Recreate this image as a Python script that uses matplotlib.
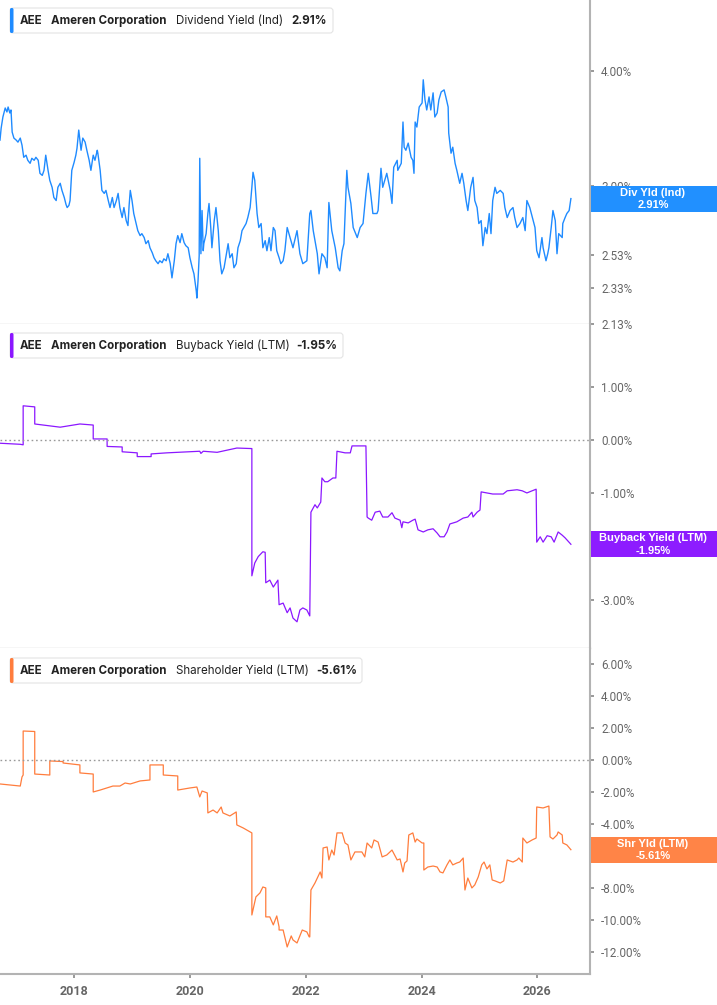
import matplotlib
matplotlib.use('Agg')
from matplotlib import pyplot as plt
from matplotlib.patches import FancyBboxPatch, Rectangle
from matplotlib.transforms import Affine2D
from matplotlib.ticker import FixedLocator, NullLocator, FuncFormatter

# Dividend Yield (Ind), %, log axis
div_year = [2016.72, 2016.74, 2016.77, 2016.81, 2016.84, 2016.86, 2016.89, 2016.91, 2016.93, 2016.96,
            2017.00, 2017.03, 2017.07, 2017.10, 2017.13, 2017.17, 2017.20, 2017.24, 2017.27, 2017.31,
            2017.34, 2017.38, 2017.41, 2017.45, 2017.48, 2017.51, 2017.55, 2017.58, 2017.62, 2017.65,
            2017.69, 2017.72, 2017.76, 2017.79, 2017.83, 2017.86, 2017.88, 2017.91, 2017.93, 2017.96,
            2018.00, 2018.03, 2018.05, 2018.08, 2018.12, 2018.15, 2018.19, 2018.22, 2018.26, 2018.29,
            2018.33, 2018.36, 2018.40, 2018.41, 2018.45, 2018.48, 2018.52, 2018.55, 2018.59, 2018.62,
            2018.66, 2018.69, 2018.73, 2018.76, 2018.79, 2018.83, 2018.86, 2018.90, 2018.93, 2018.95,
            2018.97, 2019.00, 2019.03, 2019.07, 2019.10, 2019.14, 2019.17, 2019.21, 2019.24, 2019.28,
            2019.31, 2019.35, 2019.38, 2019.41, 2019.45, 2019.48, 2019.52, 2019.55, 2019.59, 2019.62,
            2019.66, 2019.69, 2019.73, 2019.76, 2019.79, 2019.83, 2019.86, 2019.90, 2019.93, 2019.97,
            2020.00, 2020.04, 2020.07, 2020.11, 2020.12, 2020.14, 2020.16, 2020.17, 2020.19, 2020.21,
            2020.23, 2020.24, 2020.28, 2020.31, 2020.33, 2020.36, 2020.38, 2020.42, 2020.45, 2020.49,
            2020.52, 2020.55, 2020.59, 2020.62, 2020.66, 2020.69, 2020.73, 2020.76, 2020.80, 2020.83,
            2020.87, 2020.90, 2020.93, 2020.97, 2021.00, 2021.04, 2021.07, 2021.09, 2021.12, 2021.16,
            2021.19, 2021.23, 2021.26, 2021.30, 2021.33, 2021.37, 2021.40, 2021.44, 2021.47, 2021.50,
            2021.54, 2021.57, 2021.61, 2021.64, 2021.68, 2021.73, 2021.78, 2021.85, 2021.90, 2021.95,
            2022.02, 2022.07, 2022.09, 2022.13, 2022.20, 2022.23, 2022.28, 2022.33, 2022.37, 2022.40,
            2022.45, 2022.51, 2022.56, 2022.59, 2022.63, 2022.66, 2022.71, 2022.73, 2022.78, 2022.82,
            2022.89, 2022.94, 2022.99, 2023.04, 2023.08, 2023.13, 2023.16, 2023.23, 2023.25, 2023.30,
            2023.33, 2023.40, 2023.46, 2023.49, 2023.52, 2023.58, 2023.59, 2023.65, 2023.68, 2023.70,
            2023.73, 2023.77, 2023.82, 2023.85, 2023.87, 2023.89, 2023.92, 2023.96, 2024.01, 2024.03,
            2024.06, 2024.09, 2024.13, 2024.16, 2024.20, 2024.23, 2024.27, 2024.30, 2024.34, 2024.39,
            2024.42, 2024.46, 2024.47, 2024.51, 2024.54, 2024.58, 2024.61, 2024.66, 2024.70, 2024.73,
            2024.77, 2024.80, 2024.85, 2024.89, 2024.92, 2024.96, 2024.99, 2025.03, 2025.06, 2025.10,
            2025.13, 2025.17, 2025.20, 2025.23, 2025.27, 2025.30, 2025.36, 2025.41, 2025.44, 2025.48,
            2025.53, 2025.58, 2025.61, 2025.65, 2025.70, 2025.75, 2025.79, 2025.82, 2025.87, 2025.93,
            2025.96, 2025.99, 2026.03, 2026.08, 2026.10, 2026.15, 2026.18, 2026.20, 2026.24, 2026.27,
            2026.31, 2026.34, 2026.37, 2026.43, 2026.44, 2026.48, 2026.51, 2026.55, 2026.58]
div_yield = [3.366, 3.468, 3.565, 3.646, 3.610, 3.655, 3.601, 3.628, 3.434, 3.383,
             3.366, 3.349, 3.383, 3.324, 3.225, 3.242, 3.201, 3.177, 3.217, 3.201,
             3.225, 3.201, 3.099, 3.083, 3.122, 3.242, 3.122, 3.045, 2.993, 2.918,
             2.896, 2.993, 3.023, 2.970, 2.918, 2.868, 2.846, 2.861, 2.896, 3.122,
             3.185, 3.242, 3.299, 3.451, 3.282, 3.383, 3.349, 3.282, 3.201, 3.122,
             3.242, 3.201, 3.282, 3.258, 3.122, 2.970, 2.948, 2.970, 2.896, 2.846,
             2.918, 2.846, 2.896, 2.948, 2.846, 2.776, 2.846, 2.755, 2.721, 2.861,
             2.970, 2.896, 2.804, 2.735, 2.687, 2.654, 2.667, 2.641, 2.601, 2.621,
             2.575, 2.543, 2.512, 2.493, 2.475, 2.493, 2.481, 2.505, 2.493, 2.537,
             2.475, 2.389, 2.493, 2.601, 2.654, 2.608, 2.667, 2.608, 2.588, 2.575,
             2.512, 2.450, 2.413, 2.312, 2.272, 2.371, 2.524, 3.217, 2.537, 2.825,
             2.556, 2.601, 2.667, 2.804, 2.875, 2.708, 2.575, 2.755, 2.846, 2.687,
             2.493, 2.413, 2.450, 2.512, 2.601, 2.512, 2.537, 2.450, 2.475, 2.575,
             2.621, 2.687, 2.708, 2.735, 2.776, 2.846, 2.993, 3.107, 3.045, 2.804,
             2.708, 2.735, 2.575, 2.621, 2.556, 2.641, 2.556, 2.708, 2.687, 2.556,
             2.512, 2.475, 2.493, 2.556, 2.708, 2.641, 2.575, 2.687, 2.537, 2.475,
             2.493, 2.804, 2.825, 2.687, 2.537, 2.413, 2.537, 2.512, 2.450, 2.882,
             2.687, 2.575, 2.450, 2.431, 2.556, 2.601, 3.122, 2.993, 2.875, 2.708,
             2.641, 2.708, 2.735, 2.948, 3.099, 2.918, 2.804, 2.804, 2.825, 3.138,
             2.993, 3.099, 2.970, 2.875, 3.146, 3.201, 3.122, 3.177, 3.521, 3.307,
             3.282, 3.341, 3.225, 3.201, 3.099, 3.521, 3.477, 3.655, 3.692, 3.911,
             3.720, 3.628, 3.748, 3.628, 3.786, 3.565, 3.601, 3.720, 3.795, 3.814,
             3.748, 3.655, 3.425, 3.258, 3.307, 3.177, 3.122, 3.023, 3.099, 3.023,
             2.896, 2.825, 2.993, 3.068, 2.896, 2.846, 2.735, 2.755, 2.588, 2.708,
             2.667, 2.804, 2.667, 2.896, 2.993, 2.948, 2.970, 2.948, 2.846, 2.776,
             2.825, 2.846, 2.776, 2.708, 2.735, 2.776, 2.687, 2.896, 2.846, 2.755,
             2.708, 2.556, 2.512, 2.641, 2.575, 2.493, 2.537, 2.575, 2.708, 2.825,
             2.755, 2.537, 2.667, 2.641, 2.735, 2.776, 2.804, 2.825, 2.91]

# Buyback Yield (LTM), %
bb_year = [2016.72, 2017.07, 2017.12, 2017.12, 2017.32, 2017.32, 2017.76, 2018.10, 2018.33, 2018.33,
           2018.57, 2018.57, 2018.83, 2018.83, 2019.09, 2019.09, 2019.33, 2019.33, 2019.60, 2020.17,
           2020.19, 2020.23, 2020.47, 2020.81, 2021.07, 2021.07, 2021.12, 2021.18, 2021.26, 2021.30,
           2021.31, 2021.38, 2021.44, 2021.52, 2021.54, 2021.61, 2021.68, 2021.73, 2021.78, 2021.85,
           2021.90, 2021.95, 2022.02, 2022.07, 2022.09, 2022.16, 2022.20, 2022.26, 2022.28, 2022.33,
           2022.38, 2022.47, 2022.52, 2022.54, 2022.68, 2022.77, 2022.80, 2023.04, 2023.06, 2023.08,
           2023.14, 2023.20, 2023.28, 2023.33, 2023.42, 2023.49, 2023.54, 2023.63, 2023.66, 2023.68,
           2023.77, 2023.85, 2023.89, 2023.94, 2024.03, 2024.11, 2024.20, 2024.27, 2024.32, 2024.39,
           2024.44, 2024.49, 2024.61, 2024.72, 2024.80, 2024.87, 2024.89, 2024.96, 2025.01, 2025.03,
           2025.13, 2025.23, 2025.41, 2025.48, 2025.65, 2025.74, 2025.82, 2025.91, 2025.98, 2025.99,
           2026.05, 2026.10, 2026.17, 2026.24, 2026.29, 2026.36, 2026.43, 2026.48, 2026.53, 2026.58]
bb_yield = [-0.06, -0.08, -0.09, 0.64, 0.62, 0.30, 0.24, 0.30, 0.28, 0.02,
            0.02, -0.12, -0.13, -0.22, -0.24, -0.31, -0.31, -0.26, -0.24, -0.21,
            -0.25, -0.21, -0.23, -0.15, -0.16, -2.54, -2.30, -2.18, -2.09, -2.10,
            -2.67, -2.62, -2.75, -2.62, -3.08, -3.05, -3.23, -3.14, -3.33, -3.40,
            -3.18, -3.14, -3.18, -3.29, -1.35, -1.21, -1.27, -1.16, -0.71, -0.78,
            -0.78, -0.71, -0.71, -0.21, -0.24, -0.24, -0.11, -0.11, -1.44, -1.46,
            -1.50, -1.35, -1.33, -1.44, -1.44, -1.36, -1.46, -1.50, -1.64, -1.53,
            -1.55, -1.50, -1.48, -1.68, -1.72, -1.68, -1.66, -1.74, -1.81, -1.81,
            -1.72, -1.57, -1.53, -1.46, -1.44, -1.35, -1.44, -1.35, -1.31, -0.97,
            -0.99, -1.01, -1.01, -0.95, -0.93, -0.95, -0.99, -0.95, -0.92, -1.91,
            -1.81, -1.91, -1.79, -1.81, -1.91, -1.72, -1.78, -1.83, -1.89, -1.95]

# Shareholder Yield (LTM), %
sh_year = [2016.72, 2017.07, 2017.10, 2017.12, 2017.12, 2017.32, 2017.32, 2017.58, 2017.58, 2017.81,
           2017.81, 2018.10, 2018.10, 2018.33, 2018.33, 2018.45, 2018.67, 2018.79, 2018.88, 2018.97,
           2019.14, 2019.31, 2019.31, 2019.54, 2019.54, 2019.79, 2019.79, 2020.00, 2020.12, 2020.17,
           2020.21, 2020.30, 2020.31, 2020.40, 2020.47, 2020.54, 2020.57, 2020.69, 2020.80, 2020.81,
           2020.92, 2021.07, 2021.07, 2021.14, 2021.21, 2021.26, 2021.31, 2021.31, 2021.38, 2021.44,
           2021.50, 2021.54, 2021.54, 2021.61, 2021.68, 2021.75, 2021.78, 2021.85, 2021.94, 2022.02,
           2022.06, 2022.07, 2022.09, 2022.16, 2022.25, 2022.28, 2022.30, 2022.37, 2022.40, 2022.45,
           2022.49, 2022.54, 2022.63, 2022.68, 2022.73, 2022.78, 2022.85, 2022.97, 2023.02, 2023.06,
           2023.14, 2023.18, 2023.25, 2023.32, 2023.40, 2023.49, 2023.58, 2023.63, 2023.68, 2023.71,
           2023.75, 2023.78, 2023.85, 2023.89, 2023.92, 2024.01, 2024.04, 2024.04, 2024.11, 2024.20,
           2024.27, 2024.32, 2024.37, 2024.44, 2024.49, 2024.54, 2024.61, 2024.66, 2024.72, 2024.75,
           2024.80, 2024.87, 2024.92, 2024.98, 2025.04, 2025.08, 2025.13, 2025.18, 2025.22, 2025.27,
           2025.36, 2025.42, 2025.48, 2025.58, 2025.65, 2025.68, 2025.74, 2025.75, 2025.82, 2025.91,
           2025.98, 2025.99, 2026.10, 2026.20, 2026.22, 2026.27, 2026.34, 2026.36, 2026.43, 2026.44,
           2026.51, 2026.58]
sh_yield = [-1.50, -1.63, -1.06, -0.94, 1.81, 1.78, -0.88, -0.94, -0.06, -0.10,
            -0.19, -0.31, -0.81, -0.88, -2.00, -1.88, -1.63, -1.63, -1.44, -1.50,
            -1.31, -1.25, -0.31, -0.31, -0.94, -1.00, -1.88, -1.75, -1.69, -2.31,
            -1.94, -2.06, -3.31, -3.13, -3.31, -2.94, -3.31, -3.50, -3.25, -4.06,
            -4.25, -4.56, -9.69, -8.56, -8.31, -7.94, -8.00, -9.81, -9.81, -10.31,
            -9.75, -10.44, -10.63, -10.63, -11.69, -11.00, -11.25, -11.44, -10.63, -10.75,
            -11.06, -11.06, -8.13, -7.69, -7.00, -7.38, -5.50, -5.44, -6.25, -5.63,
            -5.94, -4.56, -4.56, -5.19, -5.31, -6.25, -5.75, -5.75, -6.06, -5.19,
            -5.50, -5.00, -5.13, -6.06, -5.94, -5.63, -6.25, -6.19, -7.00, -6.44,
            -6.31, -4.69, -4.56, -5.13, -4.94, -5.19, -5.19, -6.88, -6.69, -6.63,
            -6.69, -7.00, -7.06, -6.56, -6.25, -6.56, -6.44, -6.38, -6.13, -8.13,
            -7.38, -8.00, -7.81, -7.31, -6.56, -6.38, -6.81, -6.56, -7.50, -7.56,
            -7.69, -7.56, -6.25, -6.38, -6.25, -6.13, -6.38, -4.88, -5.19, -5.00,
            -4.88, -2.94, -3.00, -2.88, -4.81, -4.94, -4.69, -4.50, -4.69, -5.19,
            -5.31, -5.61]

year_ticks = [2018, 2020, 2022, 2024, 2026]
div_ticks = [2.13, 2.33, 2.53, 3.00, 4.00]
bb_ticks = [1, 0, -1, -2, -3]
sh_ticks = [6, 4, 2, 0, -2, -4, -6, -8, -10, -12]

BLUE = '#1f8bff'
PURPLE = '#8b17ff'
ORANGE = '#ff7d3d'
SPINE = '#b3b3b3'

W, H = 717, 1005
fig = plt.figure(figsize=(W / 100, H / 100), dpi=100)
px = Affine2D().scale(1 / 100) + fig.dpi_scale_trans  # pixels from bottom-left


def make_axes(top, bottom):
    ax = fig.add_axes([0, 1 - bottom / H, 590 / W, (bottom - top) / H])
    ax.set_xlim(2016.72, 2026.91)
    for s in ('top', 'left'):
        ax.spines[s].set_visible(False)
    ax.spines['right'].set_color(SPINE)
    ax.spines['right'].set_linewidth(1.5)
    ax.spines['bottom'].set_color('#bdbdbd')
    ax.spines['bottom'].set_linewidth(0.9)
    ax.yaxis.tick_right()
    ax.tick_params(axis='y', direction='out', length=3, width=1.2, color='#888888',
                   labelsize=8.4, labelcolor='#666666', pad=5)
    for lab in ax.get_yticklabels():
        lab.set_family('Roboto')
    ax.set_xticks(year_ticks)
    ax.tick_params(axis='x', bottom=False, labelbottom=False)
    return ax


def pct(v, _):
    return '{:.2f}%'.format(v)


def legend_box(top, pieces, right, color):
    bottom = H - top - 25
    fig.add_artist(FancyBboxPatch((10, bottom), right - 10, 25, boxstyle='round,pad=0,rounding_size=3',
                                  transform=px, facecolor='white', edgecolor='#e4e4e4', linewidth=0.8,
                                  zorder=5))
    fig.add_artist(FancyBboxPatch((10, bottom), 3.5, 25, boxstyle='round,pad=0,rounding_size=1.5',
                                  transform=px, facecolor=color, edgecolor='none', zorder=6))
    for text, x, weight in pieces:
        fig.text(x, bottom + 12.5, text, transform=px, ha='left', va='center', fontsize=8.3,
                 fontweight=weight, family='Inter', color='#222222', zorder=7)


def value_box(ax, value, line1, line2, color):
    yd = ax.transData.transform((2020, value))[1]
    fig.add_artist(Rectangle((591, yd - 13), W - 591, 26, transform=px, facecolor=color,
                             edgecolor='none', zorder=5))
    fig.text(653, yd + 6, line1, transform=px, ha='center', va='center', fontsize=8,
             fontweight='bold', family='Liberation Sans', color='white', zorder=6)
    fig.text(653, yd - 6.5, line2, transform=px, ha='center', va='center', fontsize=8,
             fontweight='bold', family='Liberation Sans', color='white', zorder=6)


# panel 1: dividend yield
ax1 = make_axes(0, 324)
ax1.plot(div_year, div_yield, color=BLUE, linewidth=1.0)
ax1.set_yscale('log')
ax1.set_ylim(2.13, 4.77)
ax1.yaxis.set_major_locator(FixedLocator(div_ticks))
ax1.yaxis.set_minor_locator(NullLocator())
ax1.yaxis.set_major_formatter(FuncFormatter(pct))
for lab in ax1.get_yticklabels():
    lab.set_family('Roboto')

# panel 2: buyback yield
ax2 = make_axes(324, 648)
ax2.plot(bb_year, bb_yield, color=PURPLE, linewidth=0.9)
ax2.axhline(0, color='#999999', linestyle=(0, (1.2, 2)), linewidth=1.0)
ax2.set_ylim(-3.89, 2.17)
ax2.set_yticks(bb_ticks)
ax2.yaxis.set_major_formatter(FuncFormatter(pct))
for lab in ax2.get_yticklabels():
    lab.set_family('Roboto')

# panel 3: shareholder yield
ax3 = make_axes(648, 974)
ax3.plot(sh_year, sh_yield, color=ORANGE, linewidth=0.9)
ax3.axhline(0, color='#999999', linestyle=(0, (1.2, 2)), linewidth=1.0)
ax3.set_ylim(-13.38, 7.0)
ax3.set_yticks(sh_ticks)
ax3.yaxis.set_major_formatter(FuncFormatter(pct))
for lab in ax3.get_yticklabels():
    lab.set_family('Roboto')
ax3.spines['bottom'].set_color(SPINE)
ax3.spines['bottom'].set_linewidth(1.5)
ax3.tick_params(axis='x', bottom=True, labelbottom=True, direction='out', length=3, width=1.2,
                color='#888888', labelsize=9, labelcolor='#666666', pad=5)
ax3.set_xticklabels([str(y) for y in year_ticks], fontweight='bold', family='Roboto')

legend_box(8, [('AEE', 20, 'bold'), ('Ameren Corporation', 51, 'bold'),
               ('Dividend Yield (Ind)', 176, 'normal'), ('2.91%', 291, 'bold')], 333, BLUE)
legend_box(333, [('AEE', 20, 'bold'), ('Ameren Corporation', 51, 'bold'),
                 ('Buyback Yield (LTM)', 176, 'normal'), ('-1.95%', 296, 'bold')], 343, PURPLE)
legend_box(658, [('AEE', 20, 'bold'), ('Ameren Corporation', 51, 'bold'),
                 ('Shareholder Yield (LTM)', 176, 'normal'), ('-5.61%', 316, 'bold')], 362, ORANGE)

value_box(ax1, 2.91, 'Div Yld (Ind)', '2.91%', '#2190ff')
value_box(ax2, -1.95, 'Buyback Yield (LTM)', '-1.95%', '#8d1cff')
value_box(ax3, -5.61, 'Shr Yld (LTM)', '-5.61%', '#ff8447')

plt.savefig('out.png', dpi=100, facecolor='white')
